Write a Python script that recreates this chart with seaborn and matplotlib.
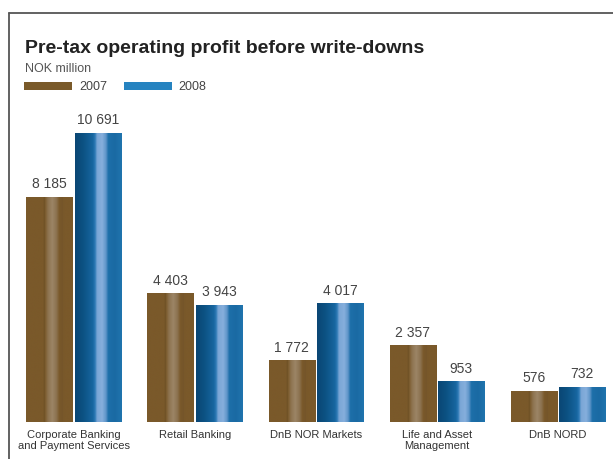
import numpy as np
import pandas as pd
import matplotlib as mpl
mpl.use('Agg')
import matplotlib.pyplot as plt
from matplotlib import font_manager
from matplotlib.patches import Rectangle
from matplotlib.lines import Line2D
import seaborn as sns

# data
categories = ["Corporate Banking\nand Payment Services", "Retail Banking",
              "DnB NOR Markets", "Life and Asset\nManagement", "DnB NORD"]
years = ["2007", "2008"]
values_2007 = [8185, 4403, 1772, 2357, 576]
values_2008 = [10691, 3943, 4017, 953, 732]

df = pd.DataFrame({
    'Segment': categories * 2,
    'Year': [years[0]] * 5 + [years[1]] * 5,
    'Profit': values_2007 + values_2008,
})

sns.set_style('white')
names = {f.name for f in font_manager.fontManager.ttflist}
has_narrow = 'Liberation Sans Narrow' in names
plt.rcParams['font.family'] = ['Liberation Sans', 'DejaVu Sans']

W, H = 613, 459
fig = plt.figure(figsize=(W / 100, H / 100), dpi=100)


def fx(x):
    return x / W


def fy(y):
    return 1 - y / H


# axes box in pixels: left 9, right 613, top 120, bottom 422
ax = fig.add_axes([fx(9), fy(422), fx(613) - fx(9), fy(120) - fy(422)])

brown = '#7a5a2a'
blue = '#2683c0'
sns.barplot(data=df, x='Segment', y='Profit', hue='Year', order=categories,
            hue_order=years, palette=[brown, blue], width=0.8, gap=0.05,
            legend=False, ax=ax)

xlim = (-0.533, 4.454)
ylim = (-651, 11203)
ax.set_xlim(*xlim)
ax.set_ylim(*ylim)


def make_grad(stops):
    pos = [s[0] for s in stops]
    cols = np.array([mpl.colors.to_rgb(s[1]) for s in stops])
    t = np.linspace(0, 1, 240)
    g = np.stack([np.interp(t, pos, cols[:, i]) for i in range(3)], axis=-1)
    return g[None, :, :]


grad_brown = make_grad([
    (0.0, '#7a592a'), (0.37, '#7a592a'), (0.39, '#6c4f24'), (0.41, '#7c5c2e'),
    (0.47, '#8d7350'), (0.56, '#9c8566'), (0.65, '#8c7250'), (0.71, '#7a592a'),
    (0.78, '#74552a'), (0.80, '#7a592a'), (1.0, '#7a592a')])
grad_blue = make_grad([
    (0.0, '#0a4674'), (0.18, '#0c5283'), (0.38, '#1766a0'), (0.43, '#2f7bb6'),
    (0.47, '#7aa6d6'), (0.58, '#86afdc'), (0.66, '#5f95c9'), (0.71, '#1d6fa9'),
    (0.85, '#1a6aa3'), (1.0, '#2074ae')])

for cont, vals, grad in zip(ax.containers, [values_2007, values_2008],
                            [grad_brown, grad_blue]):
    for bar, v in zip(cont, vals):
        top = bar.get_height()
        # bars run down to the bottom edge of the plot
        bar.set_y(ylim[0])
        bar.set_height(top - ylim[0])
        x0 = bar.get_x()
        w = bar.get_width()
        im = ax.imshow(grad, extent=[x0, x0 + w, ylim[0], top], aspect='auto',
                       interpolation='bilinear', zorder=bar.get_zorder() + 0.1)
        im.set_clip_path(bar)
        ax.annotate(f"{v:,}".replace(",", " "), (x0 + w / 2, top),
                    xytext=(0, 4), textcoords='offset points',
                    ha='center', va='bottom', fontsize=10, color='#444444')

ax.set_xlim(*xlim)
ax.set_ylim(*ylim)
ax.set_xlabel('')
ax.set_ylabel('')
ax.set_yticks([])
for s in ax.spines.values():
    s.set_visible(False)
ax.tick_params(axis='x', length=0, pad=6, labelsize=8.2 if has_narrow else 8.0,
               labelcolor='#333333')
for lbl in ax.get_xticklabels():
    lbl.set_linespacing(1.1)
    if has_narrow:
        lbl.set_family(['Liberation Sans Narrow', 'Liberation Sans'])

# frame lines (top and left)
fig.add_artist(Line2D([fx(9), fx(613)], [fy(13), fy(13)], color='#555555', lw=1.3))
fig.add_artist(Line2D([fx(9), fx(9)], [fy(13), fy(459)], color='#555555', lw=1.3))

# title block
if has_narrow:
    fig.text(fx(25), fy(53), 'Pre-tax operating profit before write-downs',
             fontsize=14.5, fontweight='bold', color='#222222', va='baseline',
             family=['Liberation Sans Narrow', 'Liberation Sans'])
else:
    fig.text(fx(25), fy(53), 'Pre-tax operating profit before write-downs',
             fontsize=14, fontweight='bold', color='#222222', va='baseline')
fig.text(fx(25), fy(72), 'NOK million', fontsize=9, color='#555555', va='baseline')

# legend
fig.add_artist(Rectangle((fx(24), fy(90)), fx(48), 8 / H, color=brown, lw=0))
fig.text(fx(79), fy(90.5), '2007', fontsize=9, color='#444444', va='baseline')
fig.add_artist(Rectangle((fx(124), fy(90)), fx(48), 8 / H, color=blue, lw=0))
fig.text(fx(178), fy(90.5), '2008', fontsize=9, color='#444444', va='baseline')

fig.savefig('out.png', dpi=100)
